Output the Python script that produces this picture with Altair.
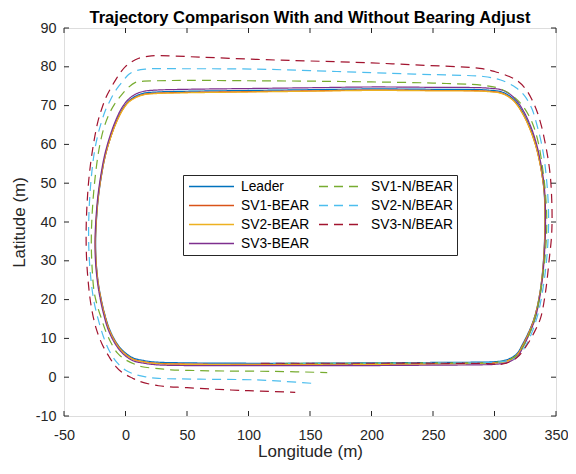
import altair as alt
import pandas as pd

# ---------------- data ----------------
SERIES = ["Leader", "SV1-BEAR", "SV2-BEAR", "SV3-BEAR",
          "SV1-N/BEAR", "SV2-N/BEAR", "SV3-N/BEAR"]
COLORS = ["#0072BD", "#D95319", "#EDB120", "#7E2F8E",
          "#77AC30", "#4DBEEE", "#A2142F"]
DASHED = [False, False, False, False, True, True, True]

X_TICKS = [-50, 0, 50, 100, 150, 200, 250, 300, 350]
Y_TICKS = [-10, 0, 10, 20, 30, 40, 50, 60, 70, 80, 90]

LEADER_X = [100, 150, 200, 250, 290, 300, 310, 318, 322.8, 329, 333, 336.5, 339, 340.5, 341,
            340.5, 339, 336.5, 333.5, 329, 323, 316, 307, 295, 250, 200, 150, 100, 50, 25, 15,
            8, 2, -3, -8, -12.5, -16.5, -19.5, -22, -23.6, -24.3, -23.8, -22, -20, -17.5, -13.5,
            -8, -2, 6, 15, 25, 50, 100, 150, 200]
LEADER_Y = [3.6, 3.6, 3.7, 3.8, 3.9, 4.0, 4.5, 6.0, 8.5, 12.5, 16.0, 21.0, 27.0, 34.0, 40.5,
            47.0, 51.5, 56.0, 60.0, 64.3, 68.3, 71.5, 73.4, 74.0, 74.2, 74.3, 74.1, 73.9, 73.7, 73.5, 73.2,
            72.4, 71.0, 68.8, 65.5, 61.5, 57.0, 52.0, 46.5, 40.5, 35.0, 29.5, 24.0, 20.5, 17.0, 12.8,
            9.2, 6.8, 5.0, 4.3, 3.9, 3.7, 3.6, 3.6, 3.7]

SV1B_X = [95, 150, 200, 250, 290, 300, 310, 318, 323, 329, 333, 336.6, 339.1, 340.6, 341.1,
          340.6, 339, 336.5, 333.4, 328.8, 322.8, 315.8, 306.8, 295, 250, 200, 150, 100, 50, 25, 15,
          8, 2, -3, -8, -12.5, -16.5, -19.6, -22.1, -23.7, -24.4, -23.9, -22.1, -20.1, -17.6, -13.6,
          -8, -2, 6, 15, 25, 50, 100, 150, 195]
SV1B_Y = [3.3, 3.3, 3.4, 3.5, 3.6, 3.7, 4.2, 5.7, 8.3, 12.3, 15.9, 21.0, 27.0, 34.0, 40.5,
          47.0, 51.4, 55.8, 59.8, 64.0, 68.0, 71.2, 73.1, 73.7, 73.9, 74.0, 73.8, 73.6, 73.4, 73.2, 72.9,
          72.1, 70.8, 68.6, 65.3, 61.4, 57.0, 52.0, 46.5, 40.5, 35.0, 29.5, 24.0, 20.4, 16.9, 12.6,
          9.0, 6.5, 4.7, 4.0, 3.6, 3.4, 3.3, 3.3, 3.4]

SV2B_X = [90, 150, 200, 250, 290, 300, 310, 318, 323.2, 329.2, 333.2, 336.7, 339.2, 340.7, 341.2,
          340.7, 339.1, 336.6, 333.5, 328.9, 322.9, 315.9, 306.9, 295, 250, 200, 150, 100, 50, 25, 15,
          8, 2, -3, -8, -12.6, -16.6, -19.7, -22.2, -23.8, -24.5, -24.0, -22.2, -20.2, -17.7, -13.7,
          -8.1, -2, 6, 15, 25, 50, 100, 150, 190]
SV2B_Y = [3.2, 3.2, 3.3, 3.4, 3.5, 3.6, 4.1, 5.6, 8.2, 12.2, 15.8, 21.0, 27.0, 34.0, 40.5,
          47.0, 51.3, 55.7, 59.7, 63.9, 67.9, 71.1, 73.0, 73.6, 73.8, 73.9, 73.7, 73.5, 73.3, 73.1, 72.8,
          72.0, 70.7, 68.5, 65.2, 61.3, 57.0, 52.0, 46.5, 40.5, 35.0, 29.5, 24.0, 20.3, 16.8, 12.5,
          8.9, 6.4, 4.6, 3.9, 3.5, 3.3, 3.2, 3.2, 3.3]

SV3B_X = [85, 150, 200, 250, 290, 300, 310.5, 318.5, 323.4, 329.5, 333.5, 337.0, 339.5, 341.0, 341.5,
          341.0, 339.5, 337.0, 334.0, 329.5, 323.4, 316.3, 307.2, 295, 250, 200, 150, 100, 50, 25, 15,
          7.8, 1.7, -3.4, -8.5, -13.0, -17.0, -20.0, -22.5, -24.1, -24.8, -24.3, -22.5, -20.5, -18.0, -14.0,
          -8.4, -2.3, 5.8, 15, 25, 50, 100, 150, 185]
SV3B_Y = [3.0, 3.0, 3.0, 3.1, 3.2, 3.3, 3.8, 5.3, 7.9, 12.0, 15.6, 21.0, 27.0, 34.0, 40.5,
          47.0, 51.7, 56.2, 60.3, 64.6, 68.7, 71.9, 73.9, 74.5, 74.7, 74.8, 74.6, 74.4, 74.2, 74.0, 73.7,
          72.9, 71.4, 69.2, 65.8, 61.8, 57.2, 52.2, 46.6, 40.5, 35.0, 29.3, 23.8, 20.1, 16.5, 12.2,
          8.6, 6.1, 4.3, 3.6, 3.2, 3.0, 3.0, 3.0, 3.1]

SV1N_X = [130, 200, 250, 298, 310, 318, 324, 329.5, 334, 337.5, 340.5, 342, 342.5, 341.5, 339.5,
          336, 332, 328, 322, 314.8, 305, 290.8, 250, 200, 150, 100, 50, 25, 15, 8.1, 2,
          -3.9, -9, -13.2, -17, -19.8, -22.5, -25.5, -27.3, -27.8, -27.2, -25.5, -23, -19.8, -16, -12,
          -6.5, 0, 8, 13.5, 26.8, 37, 60, 80, 120, 164]
SV1N_Y = [3.6, 3.6, 3.7, 3.8, 4.3, 5.6, 8.3, 12.0, 16.5, 22.0, 29.0, 35.0, 40.5, 47.2, 53.0,
          59.9, 64.5, 67.4, 70.3, 72.5, 74.3, 75.2, 75.8, 76.1, 76.3, 76.4, 76.5, 76.4, 76.3, 76.0, 74.6,
          72.5, 70.3, 67.9, 64.8, 61.5, 56.9, 49.0, 41.0, 35.0, 28.5, 22.0, 18.5, 15.3, 11.8, 9.0,
          6.2, 4.5, 3.3, 2.7, 2.2, 1.9, 1.7, 1.6, 1.5, 1.2]

SV2N_X = [120, 200, 250, 298, 310, 319, 325.5, 331, 335.5, 339, 341.8, 343.4, 344, 343.5, 342.3,
          340.5, 338, 334.5, 330.5, 324.5, 317.5, 305, 290.8, 260, 235, 200, 150, 107, 50, 16, 6.8,
          2.5, -1.2, -5, -9.2, -12.5, -15.9, -21.2, -25.2, -27.8, -29.4, -30, -29.6, -28.2, -25.8, -22.5,
          -18, -13.2, -7, 0.1, 8, 16.2, 26.8, 60, 106.8, 130, 153]
SV2N_Y = [3.6, 3.6, 3.7, 3.8, 4.2, 5.3, 8.2, 12.0, 16.5, 22.0, 28.5, 34.5, 40.5, 46.0, 51.0,
          56.0, 60.5, 65.0, 69.1, 72.5, 74.6, 76.6, 77.5, 77.9, 78.1, 78.5, 79.0, 79.4, 79.5, 79.4, 78.8,
          78.0, 76.7, 75.2, 73.3, 71.3, 69.1, 64.0, 58.2, 51.5, 44.5, 38.0, 31.5, 25.5, 19.8, 15.3,
          10.5, 6.8, 3.8, 1.8, 0.7, 0.1, -0.3, -0.5, -0.7, -1.1, -1.6]

SV3N_X = [110, 200, 250, 295, 306.8, 318, 326.8, 333, 337.5, 341.5, 344.5, 346.3, 346.8, 346.5, 345.5,
          343.8, 341.5, 338.5, 334.8, 330.5, 325.5, 319, 312, 300, 288, 235, 200, 150, 107, 60, 24.4,
          18, 10.8, 5, 0.1, -4, -7.9, -12, -15.9, -19.5, -22.5, -26.6, -29.5, -31.2, -32, -31.7,
          -30.3, -28, -24, -19, -13.2, -8, -2.6, 5.5, 10.8, 26.8, 50, 85.6, 110, 138]
SV3N_Y = [3.6, 3.6, 3.6, 3.5, 3.4, 5.0, 8.5, 12.0, 15.3, 22.0, 30.4, 36.0, 40.5, 46.0, 51.4,
          55.8, 59.9, 64.3, 68.3, 71.5, 74.2, 76.3, 77.5, 78.8, 79.6, 80.5, 81.0, 81.5, 81.9, 82.5, 82.9,
          82.7, 82.2, 81.3, 80.1, 78.6, 76.7, 74.5, 72.1, 69.0, 65.8, 59.0, 52.0, 45.0, 38.0, 31.0,
          24.5, 18.5, 12.7, 8.5, 5.2, 2.8, 1.2, -0.2, -1.0, -2.2, -2.7, -3.3, -3.6, -3.9]

POINTS = {
    "Leader": (LEADER_X, LEADER_Y),
    "SV1-BEAR": (SV1B_X, SV1B_Y),
    "SV2-BEAR": (SV2B_X, SV2B_Y),
    "SV3-BEAR": (SV3B_X, SV3B_Y),
    "SV1-N/BEAR": (SV1N_X, SV1N_Y),
    "SV2-N/BEAR": (SV2N_X, SV2N_Y),
    "SV3-N/BEAR": (SV3N_X, SV3N_Y),
}

rows = []
for s in SERIES:
    xs, ys = POINTS[s]
    for i, (xv, yv) in enumerate(zip(xs, ys)):
        rows.append({"series": s, "idx": i, "x": xv, "y": yv})
df = pd.DataFrame(rows)

dashes = [[9, 6] if d else [1, 0] for d in DASHED]

FONT = "Liberation Sans"
AX = "#262626"
W, H = 492, 388

xscale = alt.Scale(domain=[-50, 350], nice=False, zero=False)
yscale = alt.Scale(domain=[-10, 90], nice=False, zero=False)

x_axis = alt.Axis(values=X_TICKS, title="Longitude (m)", grid=False, ticks=False,
                  domain=False, labelFont=FONT, labelFontSize=14.4, labelColor=AX,
                  labelPadding=12, labelFlush=False, labelExpr="toString(datum.value)",
                  titleFont=FONT, titleFontSize=17,
                  titleFontWeight="normal", titleColor=AX, titleY=40,
                  titleBaseline="alphabetic")
y_axis = alt.Axis(values=Y_TICKS, title="Latitude (m)", grid=False, ticks=False,
                  domain=False, labelFont=FONT, labelFontSize=14.4, labelColor=AX,
                  labelPadding=8, labelFlush=False, labelExpr="toString(datum.value)",
                  titleFont=FONT, titleFontSize=17,
                  titleFontWeight="normal", titleColor=AX, titleX=-40,
                  titleBaseline="alphabetic")

legend = alt.Legend(orient="none", legendX=119, legendY=147, columns=2,
                    symbolType="stroke", symbolSize=2025, symbolStrokeWidth=1.3,
                    symbolOffset=2, labelFont=FONT, labelFontSize=13.8,
                    labelColor="black", labelOffset=6, columnPadding=6, rowPadding=2,
                    clipHeight=17, padding=3, strokeColor=AX, fillColor="white",
                    title=None)

lines = alt.Chart(df).mark_line(strokeWidth=1.2, interpolate="catmull-rom").encode(
    x=alt.X("x:Q", scale=xscale, axis=x_axis),
    y=alt.Y("y:Q", scale=yscale, axis=y_axis),
    color=alt.Color("series:N", scale=alt.Scale(domain=SERIES, range=COLORS), legend=legend),
    strokeDash=alt.StrokeDash("series:N", scale=alt.Scale(domain=SERIES, range=dashes),
                              legend=legend),
    order=alt.Order("idx:Q"),
)

xt = pd.DataFrame({"x": X_TICKS})
yt = pd.DataFrame({"y": Y_TICKS})
tick_style = dict(color=AX, strokeWidth=1)

bottom_ticks = alt.Chart(xt).mark_rule(**tick_style).encode(
    x=alt.X("x:Q", scale=xscale, axis=x_axis), y=alt.value(H), y2=alt.value(H - 5))
top_ticks = alt.Chart(xt).mark_rule(**tick_style).encode(
    x=alt.X("x:Q", scale=xscale, axis=x_axis), y=alt.value(0), y2=alt.value(5))
left_ticks = alt.Chart(yt).mark_rule(**tick_style).encode(
    y=alt.Y("y:Q", scale=yscale, axis=y_axis), x=alt.value(0), x2=alt.value(5))
right_ticks = alt.Chart(yt).mark_rule(**tick_style).encode(
    y=alt.Y("y:Q", scale=yscale, axis=y_axis), x=alt.value(W), x2=alt.value(W - 5))

chart = alt.layer(lines, bottom_ticks, top_ticks, left_ticks, right_ticks).properties(
    width=W, height=H,
    title=alt.TitleParams("Trajectory Comparison With and Without Bearing Adjust",
                          font=FONT, fontSize=16.5, fontWeight="bold", color="black",
                          anchor="middle", offset=0, dy=6),
    autosize=alt.AutoSizeParams(type="none"),
    padding={"left": 56, "top": 20, "right": 12, "bottom": 45},
).configure_view(stroke=AX, strokeWidth=1).configure(background="white")

chart.save("out.html", embed_options={"renderer": "svg", "actions": False})
